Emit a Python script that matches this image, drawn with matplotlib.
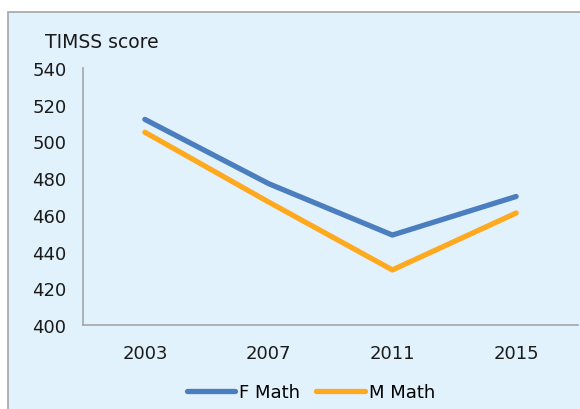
import matplotlib.pyplot as plt
from matplotlib.patches import Rectangle

years = ["2003", "2007", "2011", "2015"]
f_math = [512, 477, 449, 470]
m_math = [505, 467, 430, 461]

plt.rcParams['font.family'] = ['DejaVu Sans']

bg = "#E1F2FC"
fig = plt.figure(figsize=(5.8, 4.1), dpi=100)
fig.patch.set_facecolor("white")
# outer chart frame
fig.patches.append(Rectangle((8 / 580, -0.1), 1.0, 1 - 13 / 410 + 0.1,
                             transform=fig.transFigure, facecolor=bg,
                             edgecolor="#A6A6A6", linewidth=1.2, zorder=-1))

ax = fig.add_axes([83 / 580, 1 - 326 / 410, (578 - 83) / 580, (326 - 69) / 410])
ax.set_facecolor(bg)
x = range(len(years))
ax.plot(x, f_math, color="#4A7EBF", lw=3.8, solid_capstyle="round", label="F Math")
ax.plot(x, m_math, color="#FFA91F", lw=3.8, solid_capstyle="round", label="M Math")

ax.set_xlim(-0.5, 3.5)
ax.set_ylim(400, 540)
ax.set_yticks(range(400, 541, 20))
ax.set_xticks(list(x))
ax.set_xticklabels(years)
ax.tick_params(length=0, labelsize=13, colors="#1a1a1a")
ax.tick_params(axis="x", pad=14)
ax.tick_params(axis="y", pad=12)
for s in ["top", "right"]:
    ax.spines[s].set_visible(False)
for s in ["left", "bottom"]:
    ax.spines[s].set_color("#A6A6A6")
    ax.spines[s].set_linewidth(1.2)

fig.text(45 / 580, 1 - 42 / 410, "TIMSS score", fontsize=13.5, color="#1a1a1a",
         va="center", ha="left")

ax.legend(loc="center", bbox_to_anchor=(0.46, -0.26), ncol=2, frameon=False,
          fontsize=13, handlelength=2.7, handletextpad=0.2, columnspacing=0.9)

fig.savefig("out.png", dpi=100)
